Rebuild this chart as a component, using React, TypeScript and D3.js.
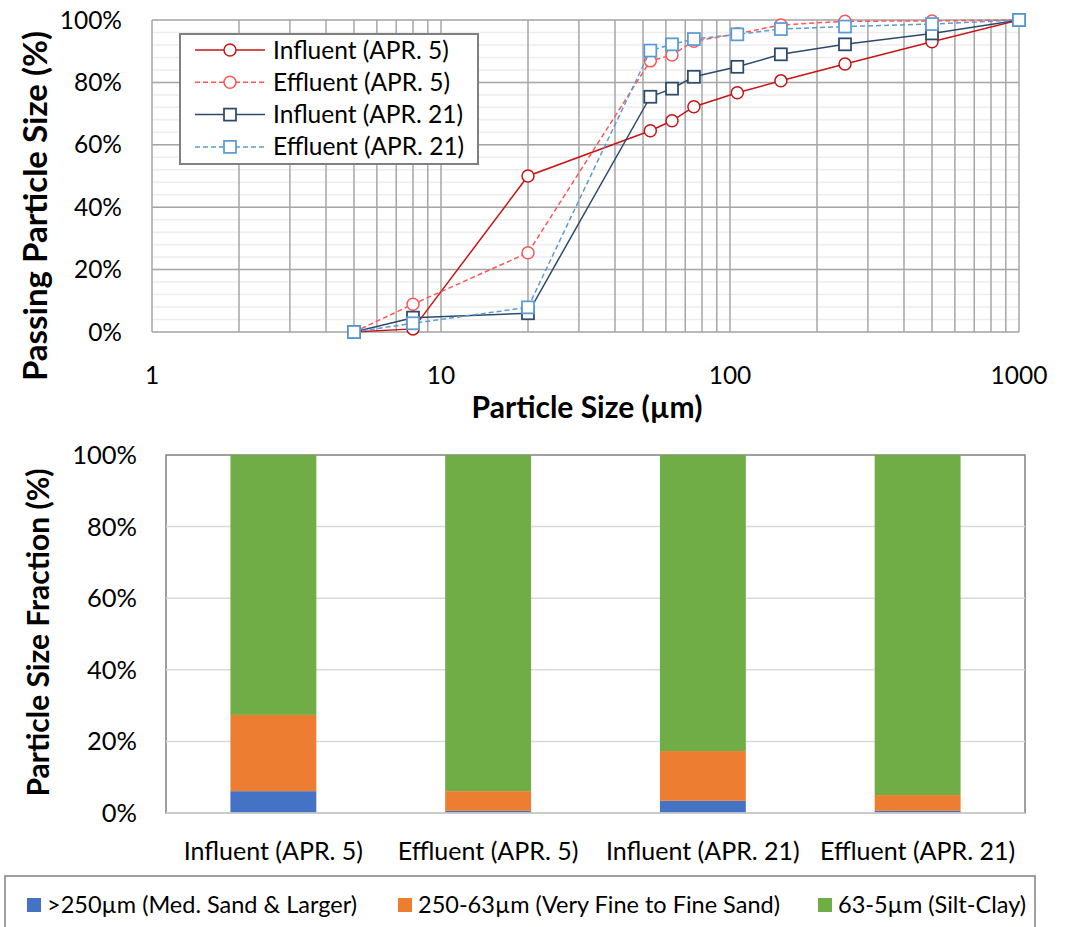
import React from "react";
import * as d3 from "d3";

// Cumulative particle size distribution (sieve size in µm, % passing)
const sizes = [5, 8, 20, 53, 63, 75, 106, 150, 250, 500, 1000];
const influentApr5 = [0, 1, 50, 64.5, 67.7, 72.2, 76.7, 80.5, 85.9, 93.0, 100];
const effluentApr5 = [0, 8.9, 25.4, 86.9, 88.8, 93.2, 95.6, 98.4, 99.6, 99.7, 100];
const influentApr21 = [0, 4.6, 6.0, 75.4, 78.0, 81.8, 85.0, 89.0, 92.2, 95.7, 100];
const effluentApr21 = [0, 2.8, 7.9, 90.2, 92.2, 93.9, 95.4, 97.1, 97.9, 98.7, 100];

const seriesNames = ["Influent (APR. 5)", "Effluent (APR. 5)", "Influent (APR. 21)", "Effluent (APR. 21)"];
const seriesColors = ["#c81414", "#ff5555", "#2b4a6c", "#5b9bd5"];
const seriesDashed = [false, true, false, true];
const seriesMarkers = ["circle", "circle", "square", "square"];

const xTickLabels = ["1", "10", "100", "1000"];

// Size fractions per sample (%)
const samples = ["Influent (APR. 5)", "Effluent (APR. 5)", "Influent (APR. 21)", "Effluent (APR. 21)"];
const medSandLarger = [6.1, 0.6, 3.4, 0.6];
const veryFineFineSand = [21.3, 5.5, 13.9, 4.4];
const siltClay = [72.6, 93.9, 82.7, 95.0];
const fractionNames = [">250µm (Med. Sand & Larger)", "250-63µm (Very Fine to Fine Sand)", "63-5µm (Silt-Clay)"];
const fractionColors = ["#4472c4", "#ed7d31", "#70ad47"];

const FONT = "Lato, 'Noto Sans', sans-serif";
const FS = 24.5; // regular text size
const TFS = 30; // axis title size

export default function App() {
  // ---- top chart geometry
  const t = { left: 152, right: 1019, top: 20, bottom: 332 };
  const x = d3.scaleLog().domain([1, 1000]).range([t.left, t.right]);
  const y = d3.scaleLinear().domain([0, 100]).range([t.bottom, t.top]);
  const vTicks = x.ticks();
  const minorY = d3.range(0, 101, 4);
  const majorY = d3.range(0, 101, 20);
  const allSeries = [influentApr5, effluentApr5, influentApr21, effluentApr21];
  const line = d3
    .line<number>()
    .x((_, i) => x(sizes[i]))
    .y((v) => y(v));

  const marker = (kind: string, cx: number, cy: number, color: string, key: string) =>
    kind === "circle" ? (
      <circle key={key} cx={cx} cy={cy} r={6} fill="#fff" stroke={color} strokeWidth={1.5} />
    ) : (
      <rect key={key} x={cx - 6} y={cy - 6} width={12} height={12} fill="#fff" stroke={color} strokeWidth={1.75} />
    );

  // ---- bottom chart geometry
  const b = { left: 166, right: 1025, top: 455, bottom: 813 };
  const xb = d3.scaleBand<string>().domain(samples).range([b.left, b.right]).paddingInner(0.6).paddingOuter(0.3);
  const yb = d3.scaleLinear().domain([0, 100]).range([b.bottom, b.top]);
  const stackInput = samples.map((s, i) => ({
    sample: s,
    a: medSandLarger[i],
    b: veryFineFineSand[i],
    c: siltClay[i],
  }));
  const stacked = d3.stack<any>().keys(["a", "b", "c"])(stackInput);

  // legend layout for the bottom chart
  const legendItems = [
    { x: 27, label: fractionNames[0], color: fractionColors[0] },
    { x: 398, label: fractionNames[1], color: fractionColors[1] },
    { x: 818, label: fractionNames[2], color: fractionColors[2] },
  ];

  return (
    <svg
      width={1068}
      height={927}
      style={{ position: "absolute", left: 0, top: 0, background: "#fff" }}
      fontFamily={FONT}
    >
      {/* ===== Cumulative distribution ===== */}
      <g>
        {minorY.map((v) => (
          <line key={"my" + v} x1={t.left} x2={t.right} y1={y(v)} y2={y(v)} stroke="#ededed" strokeWidth={1.5} />
        ))}
        {vTicks.map((v, i) => (
          <line key={"vx" + i} x1={x(v)} x2={x(v)} y1={t.top} y2={t.bottom} stroke="#a6a6a6" strokeWidth={1.5} />
        ))}
        {majorY.map((v) => (
          <line key={"My" + v} x1={t.left} x2={t.right} y1={y(v)} y2={y(v)} stroke="#a6a6a6" strokeWidth={1.5} />
        ))}
        {majorY.map((v) => (
          <text key={"yl" + v} x={122} y={y(v)} dy="0.35em" textAnchor="end" fontSize={FS} fill="#000">
            {v}%
          </text>
        ))}
        {xTickLabels.map((s) => (
          <text key={"xl" + s} x={x(+s)} y={384} textAnchor="middle" fontSize={FS} fill="#000">
            {s}
          </text>
        ))}
        <text
          transform={`translate(47,${(t.top + 392) / 2}) rotate(-90)`}
          textAnchor="middle"
          fontSize={TFS + 3}
          fontWeight="bold"
          fill="#000"
        >
          Passing Particle Size (%)
        </text>
        <text x={587} y={418} textAnchor="middle" fontSize={TFS} fontWeight="bold" fill="#000">
          Particle Size (µm)
        </text>

        {allSeries.map((vals, si) => (
          <g key={"s" + si}>
            <path
              d={line(vals) || ""}
              fill="none"
              stroke={seriesColors[si]}
              strokeWidth={1.5}
              strokeDasharray={seriesDashed[si] ? "5,3" : undefined}
            />
            {vals.map((v, i) => marker(seriesMarkers[si], x(sizes[i]), y(v), seriesColors[si], `m${si}-${i}`))}
          </g>
        ))}

        {/* legend */}
        <rect x={180} y={34} width={298} height={130} fill="#fff" stroke="#808080" strokeWidth={2} />
        {seriesNames.map((name, i) => {
          const ly = 50 + i * 32.3;
          return (
            <g key={"lg" + i}>
              <line
                x1={195}
                x2={265}
                y1={ly}
                y2={ly}
                stroke={seriesColors[i]}
                strokeWidth={1.5}
                strokeDasharray={seriesDashed[i] ? "5,3" : undefined}
              />
              {marker(seriesMarkers[i], 230, ly, seriesColors[i], "lm" + i)}
              <text x={273} y={ly} dy="0.35em" fontSize={FS} fill="#000">
                {name}
              </text>
            </g>
          );
        })}
      </g>

      {/* ===== Size fraction bars ===== */}
      <g>
        <rect x={b.left} y={b.top} width={b.right - b.left} height={b.bottom - b.top} fill="none" stroke="#808080" strokeWidth={1.5} />
        {d3.range(20, 100, 20).map((v) => (
          <line key={"bg" + v} x1={b.left} x2={b.right} y1={yb(v)} y2={yb(v)} stroke="#d9d9d9" strokeWidth={1.5} />
        ))}
        {stacked.map((layer, li) =>
          layer.map((d, i) => (
            <rect
              key={`b${li}-${i}`}
              x={xb(samples[i])}
              y={yb(d[1])}
              width={xb.bandwidth()}
              height={yb(d[0]) - yb(d[1])}
              fill={fractionColors[li]}
            />
          ))
        )}
        <line x1={b.left} x2={b.right} y1={b.bottom} y2={b.bottom} stroke="#d9d9d9" strokeWidth={1.5} />
        {d3.range(0, 101, 20).map((v) => (
          <text key={"byl" + v} x={137} y={yb(v)} dy="0.35em" textAnchor="end" fontSize={FS + 1} fill="#000">
            {v}%
          </text>
        ))}
        {samples.map((s) => (
          <text key={"bx" + s} x={(xb(s) || 0) + xb.bandwidth() / 2} y={851} dy="0.35em" textAnchor="middle" fontSize={FS + 0.5} fill="#000">
            {s}
          </text>
        ))}
        <text
          transform={`translate(49,${(468 + 797) / 2}) rotate(-90)`}
          textAnchor="middle"
          fontSize={TFS}
          fontWeight="bold"
          fill="#000"
        >
          Particle Size Fraction (%)
        </text>

        {/* legend */}
        <rect x={5} y={876} width={1030} height={55} fill="#fff" stroke="#808080" strokeWidth={1.5} />
        {legendItems.map((it, i) => (
          <g key={"bl" + i}>
            <rect x={it.x} y={898} width={14} height={14} fill={it.color} />
            <text x={it.x + 20} y={905} dy="0.35em" fontSize={23.5} fill="#000">
              {it.label}
            </text>
          </g>
        ))}
      </g>
    </svg>
  );
}
